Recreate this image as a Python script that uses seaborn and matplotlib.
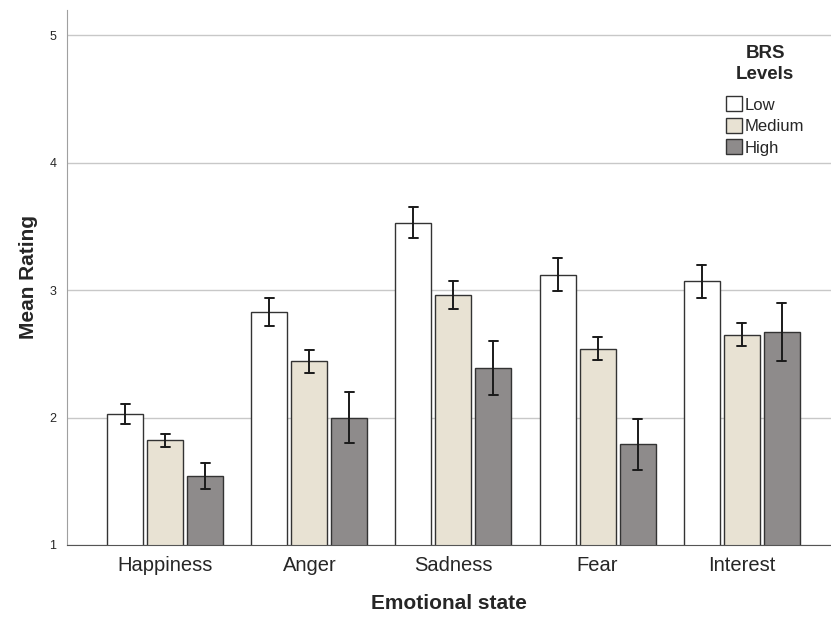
import numpy as np
import pandas as pd
import seaborn as sns
import matplotlib.pyplot as plt

sns.set_style("white")
plt.rcParams['font.family'] = ['Liberation Sans', 'DejaVu Sans']

# values
emotions = ["Happiness", "Anger", "Sadness", "Fear", "Interest"]
levels = ["Low", "Medium", "High"]
mean_low = [2.03, 2.83, 3.53, 3.12, 3.07]
mean_med = [1.82, 2.44, 2.96, 2.54, 2.65]
mean_high = [1.54, 2.00, 2.39, 1.79, 2.67]
err_low = [0.08, 0.11, 0.12, 0.13, 0.13]
err_med = [0.05, 0.09, 0.11, 0.09, 0.09]
err_high = [0.10, 0.20, 0.21, 0.20, 0.23]
level_colours = ["#ffffff", "#ebe4d0", "#8e8b8b"]

# three rows per bar (mean-err, mean, mean+err) so seaborn draws mean and min/max interval
rows = []
for lvl, means, errs in zip(levels, [mean_low, mean_med, mean_high], [err_low, err_med, err_high]):
    for emo, m, e in zip(emotions, means, errs):
        for v in (m - e, m, m + e):
            rows.append({"Emotional state": emo, "BRS Levels": lvl, "rating": v})
df = pd.DataFrame(rows)

fig = plt.figure(figsize=(8.31, 6.22), dpi=100)
ax = fig.add_axes([0.081, 0.124, 0.919, 0.86])

sns.barplot(data=df, x="Emotional state", y="rating", hue="BRS Levels",
            order=emotions, hue_order=levels, palette=level_colours,
            estimator="mean", errorbar=lambda x: (x.min(), x.max()),
            width=0.833, gap=0.1, capsize=0.18,
            err_kws={"color": "#1a1a1a", "linewidth": 1.4},
            edgecolor="#333333", linewidth=1.0, ax=ax, zorder=2)

ax.set_ylim(1, 5.2)
ax.set_xlim(-0.68, 4.62)
ax.set_yticks([1, 2, 3, 4, 5])
ax.yaxis.grid(True, color="#c8c8c8", linewidth=1.0, zorder=0)
ax.set_axisbelow(True)
ax.tick_params(axis="y", labelsize=9, length=0, pad=8)
ax.tick_params(axis="x", labelsize=14.5, length=0, pad=8)
ax.set_ylabel("Mean Rating", fontsize=15, fontweight="bold", labelpad=8)
ax.set_xlabel("Emotional state", fontsize=15, fontweight="bold", labelpad=13.5)

sns.despine(ax=ax)
ax.spines["left"].set_color("#a0a0a0")
ax.spines["bottom"].set_color("#555555")

leg = ax.legend(title="BRS\nLevels", loc="upper right", bbox_to_anchor=(0.985, 0.962),
                frameon=False, fontsize=12, handlelength=0.95, handleheight=1.0,
                handletextpad=0.2, labelspacing=0.32)
leg.get_title().set_fontweight("bold")
leg.get_title().set_fontsize(13.5)
leg.get_title().set_multialignment("center")
leg.get_title().set_linespacing(1.25)
leg._legend_box.sep = 10  # more room between title and entries
for h in leg.legend_handles:
    h.set_edgecolor("#333333")

fig.savefig("out.png", dpi=100)
